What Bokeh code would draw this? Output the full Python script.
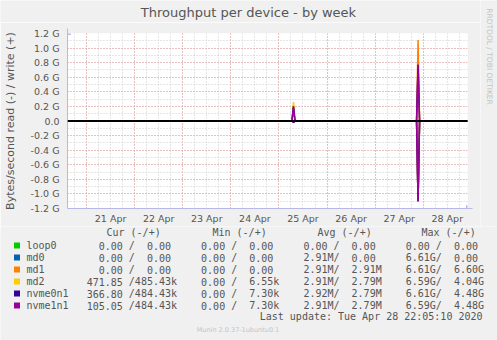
import pandas as pd
from bokeh.plotting import figure
from bokeh.layouts import column, row
from bokeh.models import (Range1d, FixedTicker, CustomJSTickFormatter,
                          DatetimeTickFormatter, Span, Arrow, NormalHead)
from bokeh.core.properties import value
from bokeh.embed import file_html
from bokeh.resources import INLINE

# ---------------- data ----------------
names = ["loop0", "md0", "md1", "md2", "nvme0n1", "nvme1n1"]
colors = ["#00cc00", "#0066b3", "#ff8000", "#ffcc00", "#330099", "#990099"]

times = ["2020-04-20 14:30", "2020-04-25 06:30", "2020-04-25 07:15",
         "2020-04-25 08:00", "2020-04-27 20:40", "2020-04-27 21:25",
         "2020-04-27 22:10", "2020-04-28 22:05"]

# write (+) in GB/s
write_loop0 = [0, 0, 0.00, 0, 0, 0.00, 0, 0]
write_md0 = [0, 0, 0.00, 0, 0, 0.00, 0, 0]
write_md1 = [0, 0, 0.22, 0, 0, 1.11, 0, 0]
write_md2 = [0, 0, 0.26, 0, 0, 0.65, 0, 0]
write_nvme0n1 = [0, 0, 0.20, 0, 0, 0.77, 0, 0]
write_nvme1n1 = [0, 0, 0.19, 0, 0, 0.77, 0, 0]
# read (-) in GB/s
read_loop0 = [0, 0, 0.00, 0, 0, 0.00, 0, 0]
read_md0 = [0, 0, 0.00, 0, 0, 1.10, 0, 0]
read_md1 = [0, 0, 0.00, 0, 0, 1.10, 0, 0]
read_md2 = [0, 0, 0.02, 0, 0, 1.09, 0, 0]
read_nvme0n1 = [0, 0, 0.02, 0, 0, 1.10, 0, 0]
read_nvme1n1 = [0, 0, 0.02, 0, 0, 1.10, 0, 0]

writes = [write_loop0, write_md0, write_md1, write_md2, write_nvme0n1, write_nvme1n1]
reads = [read_loop0, read_md0, read_md1, read_md2, read_nvme0n1, read_nvme1n1]

cur_read = [0, 0, 0, 471.85, 366.80, 105.05]
cur_write = [0, 0, 0, 485.43e3, 484.43e3, 484.43e3]
min_read = [0, 0, 0, 0, 0, 0]
min_write = [0, 0, 0, 6.55e3, 7.30e3, 7.30e3]
avg_read = [0, 2.91e6, 2.91e6, 2.91e6, 2.92e6, 2.91e6]
avg_write = [0, 0, 2.91e6, 2.79e6, 2.79e6, 2.79e6]
max_read = [0, 6.61e9, 6.61e9, 6.59e9, 6.61e9, 6.59e9]
max_write = [0, 0, 6.60e9, 4.04e9, 4.48e9, 4.48e9]

day_labels = ["2020-04-21 12:00", "2020-04-22 12:00", "2020-04-23 12:00",
              "2020-04-24 12:00", "2020-04-25 12:00", "2020-04-26 12:00",
              "2020-04-27 12:00", "2020-04-28 12:00"]
y_ticks_G = [-1.2, -1.0, -0.8, -0.6, -0.4, -0.2, 0.0, 0.2, 0.4, 0.6, 0.8, 1.0, 1.2]

x_start = "2020-04-20 14:30"
x_end = "2020-04-28 22:05"

title_text = "Throughput per device - by week"
ylabel = "Bytes/second read (-) / write (+)"
headers = ["Cur (-/+)", "Min (-/+)", "Avg (-/+)", "Max (-/+)"]
last_update = "Last update: Tue Apr 28 22:05:10 2020"
version = "Munin 2.0.37-1ubuntu0.1"
side_text = "RRDTOOL / TOBI OETIKER"


def ms(s):
    return pd.Timestamp(s).value // 10**6


TXT = "#555555"
AX = "#b8b8e8"
BG = "#f0f0f0"
W, H = 497, 340
FL, FR, FT, FB = 67, 467, 33, 208   # frame edges in page pixels
TOP_H = 226                          # height of the chart part
STRIP_H = 22                         # title strip
SIDE_W = 17                          # right credit strip
CW = W - SIDE_W                      # chart width


def pixel_fig(x0, x1, y0, y1):
    """A figure whose data coordinates are page pixels (y downwards)."""
    f = figure(width=x1 - x0, height=y1 - y0, x_range=Range1d(x0, x1),
               y_range=Range1d(y1, y0), output_backend="svg", toolbar_location=None,
               min_border=0, min_border_left=0, min_border_right=0,
               min_border_top=0, min_border_bottom=0,
               x_axis_location=None, y_axis_location=None,
               background_fill_color=BG, border_fill_color=BG, outline_line_color=None)
    f.grid.visible = False
    return f


# ---------------- main chart ----------------
p = figure(width=CW, height=TOP_H - STRIP_H, x_axis_type="datetime",
           x_range=Range1d(ms(x_start), ms(x_end)),
           y_range=Range1d(-1.2e9, 1.2e9),
           output_backend="svg", toolbar_location=None,
           min_border_left=FL, min_border_right=CW - FR,
           min_border_top=FT - STRIP_H, min_border_bottom=TOP_H - FB,
           background_fill_color="white", border_fill_color=BG,
           outline_line_color=None)
p.extra_x_ranges = {"px": Range1d(FL, FR)}
p.extra_y_ranges = {"py": Range1d(FB, FT)}

midnights = [ms(t) for t in pd.date_range("2020-04-21", "2020-04-28", freq="D")]
six_h = [ms(t) for t in pd.date_range("2020-04-20 18:00", "2020-04-28 18:00", freq="6h")]
p.xgrid.ticker = FixedTicker(ticks=midnights, minor_ticks=six_h)
yt = [round(v * 1e9) for v in y_ticks_G]
ymin = [round(k * 0.1e9) for k in range(-12, 13)]
p.ygrid.ticker = FixedTicker(ticks=yt, minor_ticks=ymin)
for g in (p.xgrid, p.ygrid):
    g.grid_line_color = "#e89a9a"
    g.grid_line_dash = "1 2"
    g.minor_grid_line_color = "#cccccc"
    g.minor_grid_line_dash = "1 2"

p.xaxis.ticker = FixedTicker(ticks=[ms(t) for t in day_labels])
fmt = "%d %b"
p.xaxis.formatter = DatetimeTickFormatter(
    microseconds=fmt, milliseconds=fmt, seconds=fmt, minsec=fmt, minutes=fmt,
    hourmin=fmt, hours=fmt, days=fmt, months=fmt, years=fmt)
p.yaxis.ticker = FixedTicker(ticks=yt)
p.yaxis.formatter = CustomJSTickFormatter(
    code="return Math.abs(tick) < 1 ? '0.0' : (tick/1e9).toFixed(1) + ' G';")

for ax in (p.xaxis[0], p.yaxis[0]):
    ax.axis_line_color = AX
    ax.major_tick_line_color = None
    ax.minor_tick_line_color = None
    ax.major_tick_out = 0
    ax.minor_tick_out = 0
    ax.major_tick_in = 0
    ax.minor_tick_in = 0
    ax.major_label_text_font = "DejaVu Sans"
    ax.major_label_text_font_size = "9.5px"
    ax.major_label_text_color = TXT
p.yaxis.major_label_standoff = 8
p.xaxis.major_label_standoff = 4
p.yaxis.axis_label = ylabel
p.yaxis.axis_label_text_font = "DejaVu Sans"
p.yaxis.axis_label_text_font_size = "11px"
p.yaxis.axis_label_text_font_style = "normal"
p.yaxis.axis_label_text_color = TXT
p.yaxis.axis_label_standoff = 11

tx = [ms(t) for t in times]
for w, r, c in zip(writes, reads, colors):
    p.line(x=tx, y=[v * 1e9 for v in w], line_color=c, line_width=1.5)
    p.line(x=tx, y=[-v * 1e9 for v in r], line_color=c, line_width=1.5)

p.add_layout(Span(location=0, dimension="width", line_color="black", line_width=2))

p.add_layout(Arrow(x_start=FL, y_start=FT + 2, x_end=FL, y_end=FT - 5,
                   x_range_name="px", y_range_name="py", line_color=AX,
                   end=NormalHead(size=6, fill_color=AX, line_color=AX)))
p.add_layout(Arrow(x_start=FR - 2, y_start=FB, x_end=FR + 5, y_end=FB,
                   x_range_name="px", y_range_name="py", line_color=AX,
                   end=NormalHead(size=6, fill_color=AX, line_color=AX)))

# ---------------- title strip ----------------
top = pixel_fig(0, CW, 0, STRIP_H)
top.text(x=[248], y=[12], text=[title_text], text_font=value("DejaVu Sans"),
         text_font_size="13px", text_baseline="middle", text_align="center",
         text_color=TXT)

# ---------------- credit strip ----------------
side = pixel_fig(CW, W, 0, TOP_H)
side.text(x=[489], y=[56], text=[side_text], text_font=value("DejaVu Sans"),
          text_font_size="7.5px", text_baseline="middle", text_align="center",
          text_color="#c4c4c4", angle=-1.5707963)

# ---------------- legend block ----------------
lg = pixel_fig(0, W, TOP_H, H)

row_y = [245 + 12 * i for i in range(len(names))]
cw = 6.02
x0 = 26.0
field_start = [10, 27, 44, 61]
mono = value("DejaVu Sans Mono")


def si(v):
    for lim, pre in ((1e9, "G"), (1e6, "M"), (1e3, "k")):
        if abs(v) >= lim:
            return f"{v / lim:.2f}", pre
    return f"{v:.2f}", ""


tx_, ty_, tt_ = [], [], []
pairs = [(cur_read, cur_write), (min_read, min_write),
         (avg_read, avg_write), (max_read, max_write)]
for i, name in enumerate(names):
    y = row_y[i]
    tx_.append(x0); ty_.append(y); tt_.append(name)
    for fs, (rd, wr) in zip(field_start, pairs):
        rn, rp = si(rd[i])
        wn, wp = si(wr[i])
        tx_.append(x0 + (fs + 6 - len(rn)) * cw); ty_.append(y); tt_.append(rn + rp)
        tx_.append(x0 + (fs + 7) * cw); ty_.append(y); tt_.append("/")
        tx_.append(x0 + (fs + 8 + 6 - len(wn)) * cw); ty_.append(y); tt_.append(wn + wp)

lg.text(x=tx_, y=ty_, text=tt_, text_font=mono, text_font_size="10px",
        text_baseline="middle", text_align="left", text_color=TXT)
lg.text(x=[106, 212, 317, 421], y=[232] * 4, text=headers, text_font=mono,
        text_font_size="10px", text_baseline="middle", text_align="left",
        text_color=TXT)
lg.rect(x=[16.5] * len(names), y=row_y, width=6, height=6, fill_color=colors,
        line_color=None)
lg.text(x=[482], y=[316], text=[last_update], text_font=mono,
        text_font_size="10px", text_baseline="middle", text_align="right",
        text_color=TXT)
lg.text(x=[237.5], y=[329], text=[version], text_font=value("DejaVu Sans"),
        text_font_size="6.5px", text_baseline="middle", text_align="center",
        text_color="#c4c4c4")

for fig in (p, top, side, lg):
    try:
        fig.frame_align = False
    except Exception:
        pass

layout = column(row(column(top, p), side), lg)
open("out.html", "w").write(file_html(layout, INLINE))
